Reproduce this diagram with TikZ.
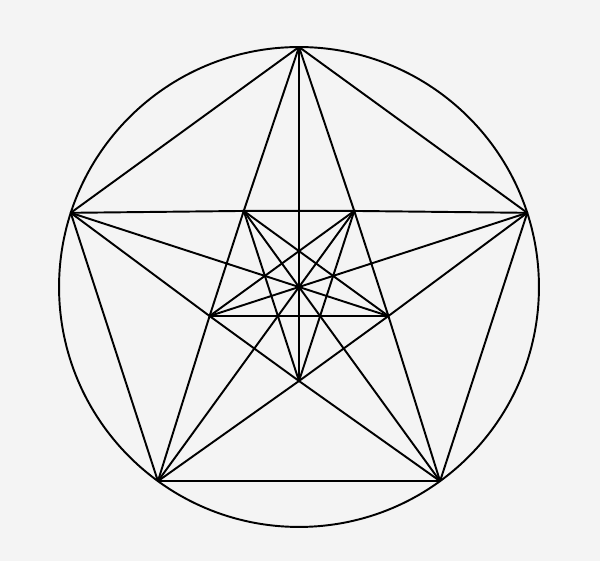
\documentclass[tikz,border=0pt]{standalone}
\usepackage{tikz}
\usetikzlibrary{calc}
\definecolor{bgcol}{HTML}{F4F4F4}
\begin{document}
\begin{tikzpicture}[line cap=round,line join=round,x=0.02cm,y=0.02cm,line width=1.1pt]
      \fill[bgcol] (0,0) rectangle (600,561);
      \coordinate (C) at (299,274);
      \foreach \k in {0,...,4}{
      \coordinate (O\k) at ($(C)+({90+72*\k}:240)$);
      \coordinate (I\k) at ($(C)+({270+72*\k}:94)$);
      }
      \draw[color=black] (C) circle (4.8cm);
      \foreach \k in {0,...,4}{
      \pgfmathtruncatemacro{\ka}{mod(\k+1,5)}
      \pgfmathtruncatemacro{\kb}{mod(\k+2,5)}
      \pgfmathtruncatemacro{\kc}{mod(\k+3,5)}
      \pgfmathtruncatemacro{\kd}{mod(\k+4,5)}
      \draw[color=black] (O\k) -- (O\ka);
      \draw[color=black] (O\k) -- (I\kc) -- (I\kd) -- (O\kb);
      \draw[color=black] (O\k) -- (C) -- (I\k);
      \draw[color=black] (I\k) -- (I\kb);
      }
    \end{tikzpicture}
\end{document}
